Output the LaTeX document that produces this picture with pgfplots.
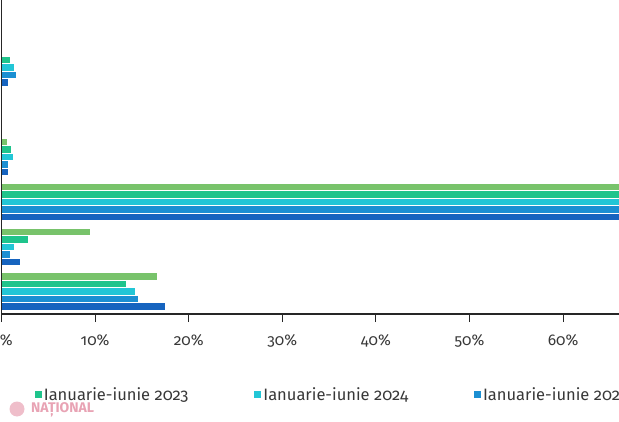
\documentclass[border=0pt]{standalone}
\usepackage{fontspec}
\setmainfont{Fira Sans}[Numbers=OldStyle]
\usepackage{pgfplots}
\pgfplotsset{compat=1.18}

\definecolor{cLG}{HTML}{78C36B}
\definecolor{cTeal}{HTML}{1FC48C}
\definecolor{cCyan}{HTML}{22C6D6}
\definecolor{cBlue}{HTML}{1B8FD2}
\definecolor{cDark}{HTML}{1664BF}
\definecolor{txt}{HTML}{383838}
\definecolor{wm}{HTML}{E8A3B4}

\begin{document}
\begin{tikzpicture}
\useasboundingbox (0pt,0pt) rectangle (619pt,421pt);
\clip (0pt,0pt) rectangle (619pt,421pt);
\begin{axis}[
  at={(1.5pt,107pt)}, anchor=south west,
  scale only axis,
  x=9.36pt, y=44.8pt,
  xmin=0, xmax=75, ymin=-0.5, ymax=6.5,
  xbar, bar width=7.5pt,
  axis x line*=bottom, axis y line*=left,
  axis line style={-, line width=1.2pt, color=black!85},
  axis on top,
  xtick={0,10,...,60},
  xticklabels={0\%,10\%,20\%,30\%,40\%,50\%,60\%},
  ytick=\empty,
  tick align=outside, major tick length=8pt,
  tick style={line width=1pt, color=black!85},
  xticklabel style={font=\fontsize{15.5}{18}\selectfont, text=txt, yshift=-9pt},
  legend style={at={(axis description cs:0.043,-0.258)}, anchor=west,
    draw=none, fill=none, legend columns=-1,
    font=\fontsize{16.5}{19}\selectfont, text=txt,
    /tikz/every even column/.append style={column sep=64pt}},
  legend image code/.code={\fill[#1,draw=none] (0pt,-3.5pt) rectangle (7pt,3.5pt);},
]
% groups from bottom (0) to top (6)
\addplot[fill=cDark, draw=white, line width=1pt, bar shift=-15pt, forget plot]
  coordinates {(17.5,0) (2.0,1) (74,2) (0.8,3) (0,4) (0.8,5) (0,6)};
\addplot[fill=cLG, draw=white, line width=1pt, bar shift=15pt, forget plot]
  coordinates {(16.7,0) (9.5,1) (71,2) (0.6,3) (0,4) (0,5) (0,6)};
\addplot[fill=cTeal, draw=white, line width=1pt, bar shift=7.5pt]
  coordinates {(13.4,0) (2.9,1) (70,2) (1.1,3) (0,4) (0.95,5) (0,6)};
\addlegendentry{Ianuarie-iunie 2023}
\addplot[fill=cCyan, draw=white, line width=1pt, bar shift=0pt]
  coordinates {(14.3,0) (1.4,1) (72,2) (1.25,3) (0,4) (1.4,5) (0,6)};
\addlegendentry{Ianuarie-iunie 2024}
\addplot[fill=cBlue, draw=white, line width=1pt, bar shift=-7.5pt]
  coordinates {(14.6,0) (1.0,1) (73,2) (0.8,3) (0,4) (1.6,5) (0,6)};
\addlegendentry{Ianuarie-iunie 2025}
\end{axis}
\fill[wm!70] (17pt,12pt) circle (7.5pt);
\node[text=wm, font=\bfseries\fontsize{14}{16}\selectfont, anchor=west, inner sep=0pt] at (31pt,11.5pt) {NAȚIONAL};
\end{tikzpicture}
\end{document}
